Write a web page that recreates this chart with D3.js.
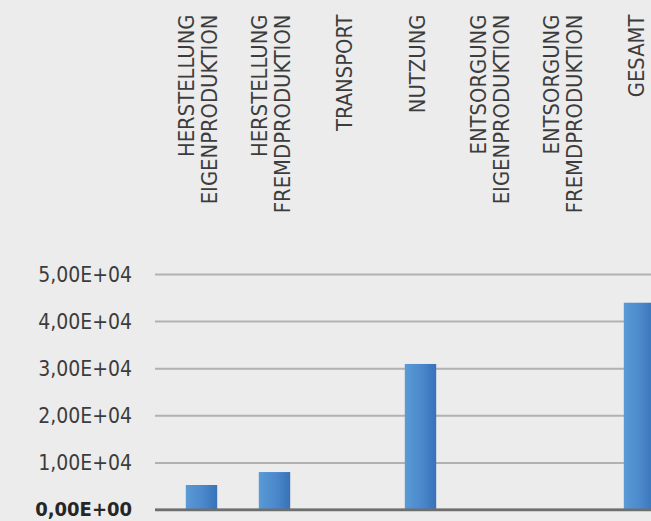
<!DOCTYPE html>
<html>
<head>
<meta charset="utf-8">
<script src="https://cdn.jsdelivr.net/npm/d3@7"></script>
<style>
  html, body { margin: 0; padding: 0; background: #ececec; }
  svg { display: block; }
  text { font-family: "DejaVu Sans Condensed", "DejaVu Sans", sans-serif; font-stretch: condensed; }
</style>
</head>
<body>
<svg id="chart" width="651" height="521"></svg>
<script>
// Life-cycle phases (two-line names split on "\n")
const categories = [
  "HERSTELLUNG\nEIGENPRODUKTION",
  "HERSTELLUNG\nFREMDPRODUKTION",
  "TRANSPORT",
  "NUTZUNG",
  "ENTSORGUNG\nEIGENPRODUKTION",
  "ENTSORGUNG\nFREMDPRODUKTION",
  "GESAMT"
];
const values = [5200, 7950, 0, 30900, 0, 0, 43900];
const yTicks = [0, 10000, 20000, 30000, 40000, 50000];
const yTickLabels = ["0,00E+00", "1,00E+04", "2,00E+04", "3,00E+04", "4,00E+04", "5,00E+04"];

const W = 651, H = 521;
const svg = d3.select("#chart");

svg.append("rect").attr("width", W).attr("height", H).attr("fill", "#ececec");

const defs = svg.append("defs");
const grad = defs.append("linearGradient").attr("id", "barGrad")
  .attr("x1", "0%").attr("x2", "100%").attr("y1", "0%").attr("y2", "0%");
grad.append("stop").attr("offset", "0%").attr("stop-color", "#5a9ad6");
grad.append("stop").attr("offset", "55%").attr("stop-color", "#4a88cb");
grad.append("stop").attr("offset", "100%").attr("stop-color", "#3871b8");

const plotLeft = 155;

const x = d3.scaleBand()
  .domain(categories)
  .range([165, 676])
  .paddingInner(0.57)
  .paddingOuter(0.285);

const y = d3.scaleLinear()
  .domain([0, 50000])
  .range([509.5, 274]);

// Gridlines and value labels
const yAxis = d3.axisLeft(y)
  .tickValues(yTicks)
  .tickFormat((d, i) => yTickLabels[i])
  .tickSize(-(W - plotLeft))
  .tickPadding(23);

const gy = svg.append("g")
  .attr("transform", `translate(${plotLeft},0)`)
  .call(yAxis);
gy.select(".domain").remove();
gy.selectAll(".tick line")
  .attr("stroke", d => d === 0 ? "#6f6f6f" : "#b1b1b1")
  .attr("stroke-width", d => d === 0 ? 2.5 : 2);
gy.selectAll(".tick text")
  .attr("fill", d => d === 0 ? "#262626" : "#3c3c3c")
  .attr("font-size", d => d === 0 ? "20px" : "21px")
  .attr("font-weight", d => d === 0 ? "bold" : "normal")
  .attr("dy", d => d === 0 ? "0.32em" : "0.36em");

// Bars
svg.append("g").selectAll("rect")
  .data(categories.map((c, i) => ({ c, v: values[i] })).filter(d => d.v > 0))
  .join("rect")
  .attr("x", d => x(d.c))
  .attr("width", x.bandwidth())
  .attr("y", d => y(d.v))
  .attr("height", d => y(0) - y(d.v))
  .attr("fill", "url(#barGrad)");

// Redraw the zero line over the bar feet
svg.append("line")
  .attr("x1", plotLeft).attr("x2", W)
  .attr("y1", y(0)).attr("y2", y(0))
  .attr("stroke", "#6f6f6f").attr("stroke-width", 2);

// Rotated category names along the top
const lineGap = 23.7;
const cats = svg.append("g").selectAll("text")
  .data(categories)
  .join("text")
  .attr("transform", d => `translate(${x(d) + x.bandwidth() / 2},14.5) rotate(-90)`)
  .attr("text-anchor", "end")
  .attr("font-size", "21.8px")
  .attr("fill", "#3c3c3c");

cats.each(function (d) {
  const lines = d.split("\n");
  const first = 4 - (lines.length - 1) * lineGap / 2;
  d3.select(this).selectAll("tspan")
    .data(lines)
    .join("tspan")
    .attr("x", 0)
    .attr("y", (l, i) => first + i * lineGap)
    .text(l => l);
});
</script>
</body>
</html>
